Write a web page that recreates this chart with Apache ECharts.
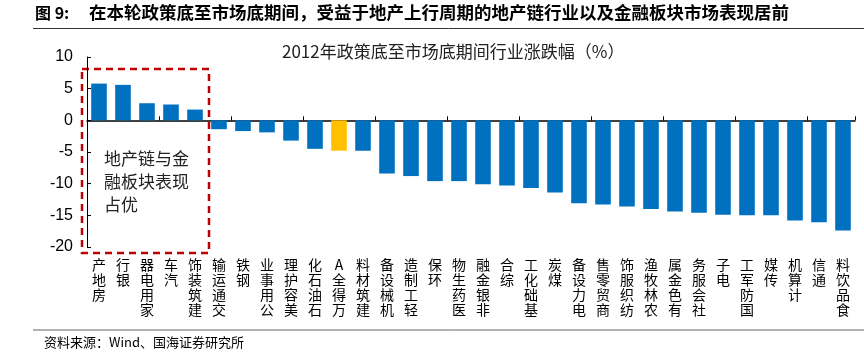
<!DOCTYPE html>
<html><head><meta charset="utf-8">
<script src="https://cdn.jsdelivr.net/npm/echarts@6/dist/echarts.min.js"></script>
<style>html,body{margin:0;padding:0;background:#fff}#c{width:864px;height:359px}</style>
</head><body><div id="c"></div>
<script>
const categories = ['房地产','银行','家用电器','汽车','建筑装饰','交通运输','钢铁','公用事业','美容护理','石油石化','万得全A','建筑材料','机械设备','轻工制造','环保','医药生物','非银金融','综合','基础化工','煤炭','电力设备','商贸零售','纺织服饰','农林牧渔','有色金属','社会服务','电子','国防军工','传媒','计算机','通信','食品饮料'];
const values = [5.8,5.6,2.7,2.5,1.7,-1.4,-1.7,-1.9,-3.2,-4.5,-4.8,-4.8,-8.4,-8.8,-9.6,-9.6,-10.1,-10.3,-10.7,-11.4,-13.1,-13.3,-13.6,-14.0,-14.4,-14.6,-14.9,-15.0,-15.0,-15.8,-16.1,-17.4];
const highlight = '万得全A';
const yTicks = [-20,-15,-10,-5,0,5,10];
const figLabel = '图 9:';
const mainTitle = '在本轮政策底至市场底期间，受益于地产上行周期的地产链行业以及金融板块市场表现居前';
const chartTitle = '2012年政策底至市场底期间行业涨跌幅（%）';
const note = '地产链与金\n融板块表现\n占优';
const source = '资料来源：Wind、国海证券研究所';

const chart = echarts.init(document.getElementById('c'), null, {renderer:'canvas'});
const cjk = '"Noto Sans CJK SC", sans-serif';
const option = {
  animation:false,
  backgroundColor:'#fff',
  grid:{left:87,right:9,top:57,bottom:112,containLabel:false},
  xAxis:[
    {type:'category',data:categories,position:'bottom',
     axisLine:{onZero:true,lineStyle:{color:'#000',width:1.5}},
     axisTick:{show:true,inside:true,length:4,lineStyle:{color:'#000'}},
     axisLabel:{show:false},splitLine:{show:false}},
    {type:'category',data:categories,position:'bottom',
     axisLine:{show:false,onZero:false},axisTick:{show:false},
     axisLabel:{show:true,interval:0,margin:10,fontFamily:cjk,fontSize:14,lineHeight:15,color:'#000',verticalAlign:'top',
       formatter:v=>v.split('').reverse().join('\n')}}
  ],
  yAxis:{type:'value',min:-20,max:10,interval:5,
    axisLine:{show:true,lineStyle:{color:'#000',width:1}},
    axisTick:{show:true,inside:true,length:4,lineStyle:{color:'#000'}},
    axisLabel:{fontFamily:'Arial, "Liberation Sans", sans-serif',fontSize:16,color:'#000',margin:14,
      showMinLabel:true,showMaxLabel:true,
      formatter:v=>yTicks.includes(v)?String(v):''},
    splitLine:{show:false}},
  series:[{type:'bar',xAxisIndex:0,barWidth:'65%',
    data:values.map((v,i)=>({value:v,itemStyle:{color:categories[i]===highlight?'#FFC000':'#0070C0'}}))}],
  graphic:[
    {type:'text',left:35,top:5,style:{text:figLabel,fontFamily:cjk,fontSize:16,fontWeight:'bold',fill:'#000'}},
    {type:'text',left:89,top:4,style:{text:mainTitle,fontFamily:cjk,fontSize:17.5,fontWeight:'bold',fill:'#000'}},
    {type:'text',left:282,top:43,style:{text:chartTitle,fontFamily:cjk,fontSize:17,fill:'#222'}},
    {type:'line',shape:{x1:33,y1:28.5,x2:864,y2:28.5},style:{stroke:'#333',lineWidth:1}},
    {type:'rect',shape:{x:82,y:69,width:127,height:184},style:{fill:'none',stroke:'#C00000',lineWidth:2.5,lineDash:[7,5]}},
    {type:'text',left:104,top:147,style:{text:note,fontFamily:cjk,fontSize:17,lineHeight:23,fill:'#222'}},
    {type:'line',shape:{x1:33,y1:330,x2:864,y2:330},style:{stroke:'#666',lineWidth:1}},
    {type:'text',left:44,top:336,style:{text:source,fontFamily:cjk,fontSize:13,fill:'#000'}}
  ]
};
chart.setOption(option);
</script></body></html>
